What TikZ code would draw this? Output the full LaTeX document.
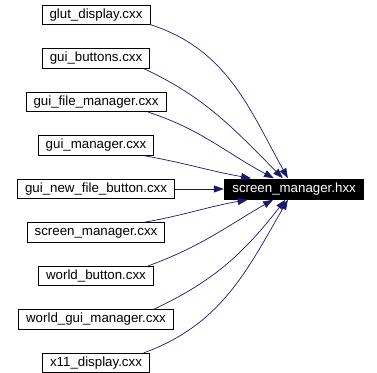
\documentclass[tikz,border=0pt]{standalone}
\usepackage{fontspec}
\setmainfont{Liberation Sans}
\usetikzlibrary{positioning}
\usetikzlibrary{arrows.meta}
\definecolor{edgeblue}{RGB}{25,25,112}

\begin{document}
\begin{tikzpicture}[x=1pt, y=1pt, node distance=23.2pt and 49pt,
    every node/.style={font=\fontsize{13.3}{15}\selectfont, inner xsep=7.5pt, inner ysep=0pt, text height=9.6pt, text depth=2.9pt, minimum height=19.5pt},
    file/.style={draw, line width=0.8pt},
    header/.style={fill=black, text=white, minimum width=140pt, minimum height=21pt},
    dep/.style={edgeblue, line width=0.7pt, -{Triangle[length=10pt,width=7pt]}}]
    \useasboundingbox (0,0) rectangle (377,-372);
    \node (glut) [file] at (96,-15) {glut\_display.cxx};
    \node (btn) [file, below=of glut] {gui\_buttons.cxx};
    \node (filemgr) [file, below=of btn] {gui\_file\_manager.cxx};
    \node (guimgr) [file, below=of filemgr] {gui\_manager.cxx};
    \node (newfile) [file, below=of guimgr] {gui\_new\_file\_button.cxx};
    \node (scrcxx) [file, below=of newfile] {screen\_manager.cxx};
    \node (wbtn) [file, below=of scrcxx] {world\_button.cxx};
    \node (wgui) [file, below=of wbtn] {world\_gui\_manager.cxx};
    \node (x11) [file, below=of wgui] {x11\_display.cxx};
    \node (scr) [header, right=of newfile] {screen\_manager.hxx};

    \draw[dep] (glut.-10) to[out=-18, in=119] (scr.120);
    \draw[dep] (btn.-12) to[out=-25, in=135] (scr.136);
    \draw[dep] (filemgr.-11) to[out=-18, in=152] (scr.152);
    \draw[dep] (guimgr.-12) to[out=-10, in=170] (scr.166);
    \draw[dep] (newfile) -- (scr);
    \draw[dep] (scrcxx.12) to[out=10, in=190] (scr.193);
    \draw[dep] (wbtn.11) to[out=20, in=210] (scr.207);
    \draw[dep] (wgui.10) to[out=25, in=232] (scr.231);
    \draw[dep] (x11.12) to[out=20, in=240] (scr.240);
\end{tikzpicture}
\end{document}
